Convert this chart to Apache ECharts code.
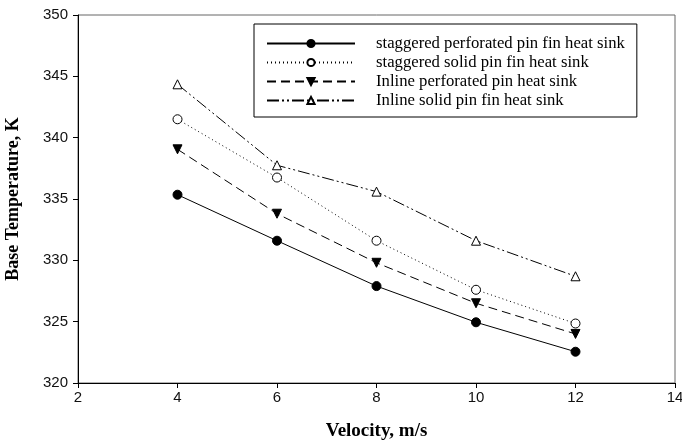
<!DOCTYPE html>
<html><head><meta charset="utf-8">
<script src="https://cdn.jsdelivr.net/npm/echarts@6/dist/echarts.min.js"></script>
<style>html,body{margin:0;padding:0;background:#fff}#c{width:682px;height:441px}</style>
</head><body><div id="c"></div>
<script>
const velocity = [4, 6, 8, 10, 12];
const staggeredPerforated = [335.35, 331.6, 327.9, 324.95, 322.55];
const staggeredSolid = [341.5, 336.75, 331.6, 327.6, 324.85];
const inlinePerforated = [339.05, 333.8, 329.8, 326.5, 324.0];
const inlineSolid = [344.35, 337.75, 335.6, 331.6, 328.7];
const seriesNames = [
  'staggered perforated pin fin heat sink',
  'staggered solid pin fin heat sink',
  'Inline perforated pin heat sink',
  'Inline solid pin fin heat sink'
];
const pair = arr => velocity.map((v, i) => [v, arr[i]]);

const chart = echarts.init(document.getElementById('c'));
const base = {
  type: 'line', symbolSize: 9, animation: false,
  lineStyle: { color: '#000', width: 1 },
  itemStyle: { color: '#000', borderColor: '#000', borderWidth: 1 }
};
chart.setOption({
  animation: false,
  grid: { left: 78, right: 7, top: 15, bottom: 58, show: true, borderColor: '#666', borderWidth: 1,
          containLabel: false, outerBoundsMode: 'none' },
  xAxis: {
    type: 'value', min: 2, max: 14, interval: 2,
    name: 'Velocity, m/s', nameLocation: 'middle', nameGap: 39,
    nameTextStyle: { fontFamily: 'Liberation Serif', fontWeight: 'bold', fontSize: 19, color: '#000' },
    axisLine: { show: true, lineStyle: { color: '#000' } },
    axisTick: { show: true, length: 5, lineStyle: { color: '#000' } },
    axisLabel: { fontFamily: 'Liberation Sans', fontSize: 15, color: '#111', margin: 7 },
    splitLine: { show: false }
  },
  yAxis: {
    type: 'value', min: 320, max: 350, interval: 5,
    name: 'Base Temperature, K', nameLocation: 'middle', nameGap: 56,
    nameTextStyle: { fontFamily: 'Liberation Serif', fontWeight: 'bold', fontSize: 18, color: '#000' },
    axisLine: { show: true, lineStyle: { color: '#000' } },
    axisTick: { show: true, length: 5, lineStyle: { color: '#000' } },
    axisLabel: { fontFamily: 'Liberation Sans', fontSize: 15, color: '#111', margin: 10 },
    splitLine: { show: false }
  },
  legend: {
    orient: 'vertical', left: 254, top: 24,
    padding: [11, 12, 8, 12], itemGap: 2, itemWidth: 88, itemHeight: 9,
    borderColor: '#000', borderWidth: 1,
    textStyle: { fontFamily: 'Liberation Serif', fontSize: 16.7, lineHeight: 16, color: '#000', padding: [0, 0, 0, 16] },
    data: seriesNames
  },
  series: [
    Object.assign({}, base, { name: seriesNames[0], data: pair(staggeredPerforated), symbol: 'circle',
      lineStyle: { color: '#000', width: 1, type: 'solid' } }),
    Object.assign({}, base, { name: seriesNames[1], data: pair(staggeredSolid), symbol: 'circle',
      itemStyle: { color: '#fff', borderColor: '#000', borderWidth: 1 },
      lineStyle: { color: '#000', width: 1, type: [1, 3] } }),
    Object.assign({}, base, { name: seriesNames[2], data: pair(inlinePerforated), symbol: 'triangle', symbolRotate: 180,
      lineStyle: { color: '#000', width: 1, type: [9, 5] } }),
    Object.assign({}, base, { name: seriesNames[3], data: pair(inlineSolid), symbol: 'triangle',
      itemStyle: { color: '#fff', borderColor: '#000', borderWidth: 1 },
      lineStyle: { color: '#000', width: 1, type: [12, 3, 2, 3, 2, 3] } })
  ]
});
</script></body></html>
